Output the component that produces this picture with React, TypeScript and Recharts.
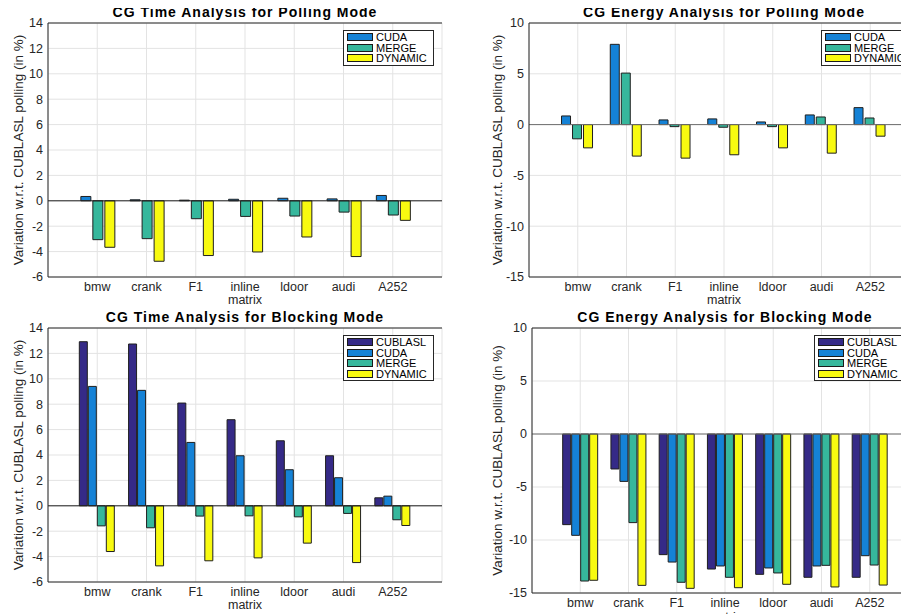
import React from 'react';
import {
  BarChart,
  Bar,
  XAxis,
  YAxis,
  CartesianGrid,
  ReferenceLine,
  Legend,
} from 'recharts';

// matrices on the x axis
const matrices = ['bmw', 'crank', 'F1', 'inline', 'ldoor', 'audi', 'A252'];

// CG time, polling mode (% vs CUBLASL polling)
const timePollCuda = [0.34, 0.08, 0.05, 0.12, 0.2, 0.15, 0.42];
const timePollMerge = [-3.06, -2.98, -1.41, -1.23, -1.2, -0.89, -1.12];
const timePollDynamic = [-3.66, -4.76, -4.31, -4.03, -2.85, -4.39, -1.54];

// CG energy, polling mode
const energyPollCuda = [0.85, 7.9, 0.46, 0.56, 0.26, 0.95, 1.67];
const energyPollMerge = [-1.4, 5.07, -0.2, -0.26, -0.2, 0.75, 0.65];
const energyPollDynamic = [-2.29, -3.1, -3.3, -2.97, -2.29, -2.81, -1.14];

// CG time, blocking mode
const timeBlockCublasl = [12.92, 12.74, 8.09, 6.78, 5.12, 3.94, 0.63];
const timeBlockCuda = [9.4, 9.09, 4.99, 3.94, 2.84, 2.21, 0.76];
const timeBlockMerge = [-1.58, -1.73, -0.81, -0.79, -0.87, -0.6, -1.1];
const timeBlockDynamic = [-3.6, -4.73, -4.33, -4.1, -2.94, -4.47, -1.55];

// CG energy, blocking mode
const energyBlockCublasl = [-8.55, -3.3, -11.38, -12.74, -13.24, -13.52, -13.52];
const energyBlockCuda = [-9.56, -4.47, -12.08, -12.45, -12.64, -12.45, -11.48];
const energyBlockMerge = [-13.87, -8.36, -13.99, -13.52, -13.11, -12.39, -12.36];
const energyBlockDynamic = [-13.8, -14.28, -14.56, -14.5, -14.18, -14.43, -14.25];

const timeTicks = [-6, -4, -2, 0, 2, 4, 6, 8, 10, 12, 14];
const energyTicks = [-15, -10, -5, 0, 5, 10];

const colors: Record<string, string> = {
  CUBLASL: '#352a87',
  CUDA: '#1582d6',
  MERGE: '#36b79c',
  DYNAMIC: '#f8fa10',
};

const FONT = '"Liberation Sans", Arial, Helvetica, sans-serif';
const INK = '#262626';
const Y_LABEL = 'Variation w.r.t. CUBLASL polling (in %)';
const Y_AXIS_W = 40;

type Series = Record<string, number[]>;

const buildRows = (series: Series) =>
  matrices.map((m, i) => {
    const row: Record<string, string | number> = { matrix: m };
    Object.keys(series).forEach((k) => {
      row[k] = series[k][i];
    });
    return row;
  });

interface PanelProps {
  title: string;
  series: Series;
  ticks: number[];
  left: number;
  top: number;
  width: number;
  height: number;
  margin: { top: number; right: number; bottom: number; left: number };
  xHeight: number;
  xLabelOffset: number;
  yLabelOffset: number;
  legend: { left: number; top: number; width: number };
  zeroColor: string;
}

const LegendBox = (keys: string[], width: number) => () => (
  <div
    style={{
      width,
      border: `1px solid ${INK}`,
      background: '#fff',
      padding: '1px 3px',
      boxSizing: 'border-box',
      fontFamily: FONT,
    }}
  >
    {keys.map((k) => (
      <div key={k} style={{ display: 'flex', alignItems: 'center', height: 10.6 }}>
        <span
          style={{
            display: 'inline-block',
            width: 26,
            height: 8,
            background: colors[k],
            border: '1px solid #1a1a1a',
            boxSizing: 'border-box',
            marginRight: 3,
          }}
        />
        <span style={{ fontSize: 11, lineHeight: '10.6px', color: '#000', whiteSpace: 'nowrap' }}>
          {k}
        </span>
      </div>
    ))}
  </div>
);

const Panel: React.FC<PanelProps> = ({
  title,
  series,
  ticks,
  left,
  top,
  width,
  height,
  margin,
  xHeight,
  xLabelOffset,
  yLabelOffset,
  legend,
  zeroColor,
}) => {
  const keys = Object.keys(series);
  const data = buildRows(series);
  const plotLeft = margin.left + Y_AXIS_W;
  const plotW = width - plotLeft - margin.right;
  const pad = plotW / 16; // MATLAB x-limits run from 0 to 8
  const domain: [number, number] = [ticks[0], ticks[ticks.length - 1]];
  const groupShare = keys.length / (keys.length + 1.5);
  const gap = `${(((1 - groupShare) / 2) * 100).toFixed(1)}%`;

  return (
    <div style={{ position: 'absolute', left, top, width, height }}>
      <BarChart
        width={width}
        height={height}
        data={data}
        margin={margin}
        barCategoryGap={gap}
        barGap={keys.length > 3 ? 1 : 2}
      >
        <CartesianGrid stroke="#e3e3e3" />
        <XAxis
          dataKey="matrix"
          height={xHeight}
          padding={{ left: pad, right: pad }}
          tickLine={false}
          tickSize={5}
          tickMargin={0}
          axisLine={{ stroke: INK }}
          tick={{ fill: INK, fontSize: 12.5, fontFamily: FONT }}
          interval={0}
          label={{
            value: 'matrix',
            position: 'insideBottom',
            offset: xLabelOffset,
            fill: INK,
            fontSize: 12.5,
            fontFamily: FONT,
          }}
        />
        <YAxis
          width={Y_AXIS_W}
          domain={domain}
          ticks={ticks}
          allowDataOverflow
          tickLine={false}
          tickSize={5}
          tickMargin={0}
          axisLine={{ stroke: INK }}
          tick={{ fill: INK, fontSize: 12.5, fontFamily: FONT }}
          label={{
            value: Y_LABEL,
            angle: -90,
            position: 'insideLeft',
            offset: yLabelOffset,
            fill: INK,
            fontSize: 13.5,
            fontFamily: FONT,
            style: { textAnchor: 'middle' },
          }}
        />
        <YAxis
          yAxisId="right"
          orientation="right"
          width={0}
          domain={domain}
          ticks={ticks}
          tick={false}
          tickLine={false}
          axisLine={{ stroke: INK }}
        />
        {keys.map((k) => (
          <Bar
            key={k}
            dataKey={k}
            name={k}
            fill={colors[k]}
            stroke="#1f1f1f"
            strokeWidth={1}
            isAnimationActive={false}
          />
        ))}
        <ReferenceLine y={0} stroke={zeroColor} strokeWidth={1} />
        <ReferenceLine y={domain[1]} stroke={INK} strokeWidth={1} />
        <Legend
          layout="vertical"
          align="center"
          verticalAlign="middle"
          content={LegendBox(keys, legend.width)}
          wrapperStyle={{ left: legend.left, top: legend.top, width: legend.width, height: 'auto' }}
        />
      </BarChart>
      <div
        style={{
          position: 'absolute',
          left: plotLeft,
          width: plotW,
          top: 4,
          zIndex: 2,
          textAlign: 'center',
          fontFamily: FONT,
          fontSize: 14,
          fontWeight: 'bold',
          letterSpacing: 1,
          lineHeight: '16px',
          color: '#000',
          whiteSpace: 'nowrap',
        }}
      >
        {title}
      </div>
    </div>
  );
};

export default function App() {
  return (
    <div
      style={{
        position: 'relative',
        width: 909,
        height: 614,
        margin: '-8px 0 0 -8px',
        overflow: 'hidden',
        background: '#fff',
        fontFamily: FONT,
      }}
    >
      <Panel
        title="CG Time Analysis for Polling Mode"
        series={{ CUDA: timePollCuda, MERGE: timePollMerge, DYNAMIC: timePollDynamic }}
        ticks={timeTicks}
        left={0}
        top={0}
        width={460}
        height={309}
        margin={{ top: 23, right: 18, bottom: 0, left: 8 }}
        xHeight={32}
        xLabelOffset={5}
        yLabelOffset={10}
        legend={{ left: 343, top: 30, width: 91 }}
        zeroColor="#1f1f1f"
      />
      <Panel
        title="CG Energy Analysis for Polling Mode"
        series={{ CUDA: energyPollCuda, MERGE: energyPollMerge, DYNAMIC: energyPollDynamic }}
        ticks={energyTicks}
        left={455}
        top={0}
        width={480}
        height={309}
        margin={{ top: 23, right: 16, bottom: 0, left: 34 }}
        xHeight={32}
        xLabelOffset={5}
        yLabelOffset={8}
        legend={{ left: 366, top: 30, width: 95 }}
        zeroColor="#6e6e6e"
      />
      <Panel
        title="CG Time Analysis for Blocking Mode"
        series={{
          CUBLASL: timeBlockCublasl,
          CUDA: timeBlockCuda,
          MERGE: timeBlockMerge,
          DYNAMIC: timeBlockDynamic,
        }}
        ticks={timeTicks}
        left={0}
        top={305}
        width={460}
        height={309}
        margin={{ top: 23, right: 18, bottom: 0, left: 8 }}
        xHeight={32}
        xLabelOffset={5}
        yLabelOffset={10}
        legend={{ left: 343, top: 30, width: 91 }}
        zeroColor="#1f1f1f"
      />
      <Panel
        title="CG Energy Analysis for Blocking Mode"
        series={{
          CUBLASL: energyBlockCublasl,
          CUDA: energyBlockCuda,
          MERGE: energyBlockMerge,
          DYNAMIC: energyBlockDynamic,
        }}
        ticks={energyTicks}
        left={455}
        top={305}
        width={480}
        height={318}
        margin={{ top: 23, right: 17, bottom: 0, left: 37 }}
        xHeight={30}
        xLabelOffset={2}
        yLabelOffset={5}
        legend={{ left: 359, top: 30, width: 100 }}
        zeroColor="#6e6e6e"
      />
    </div>
  );
}
